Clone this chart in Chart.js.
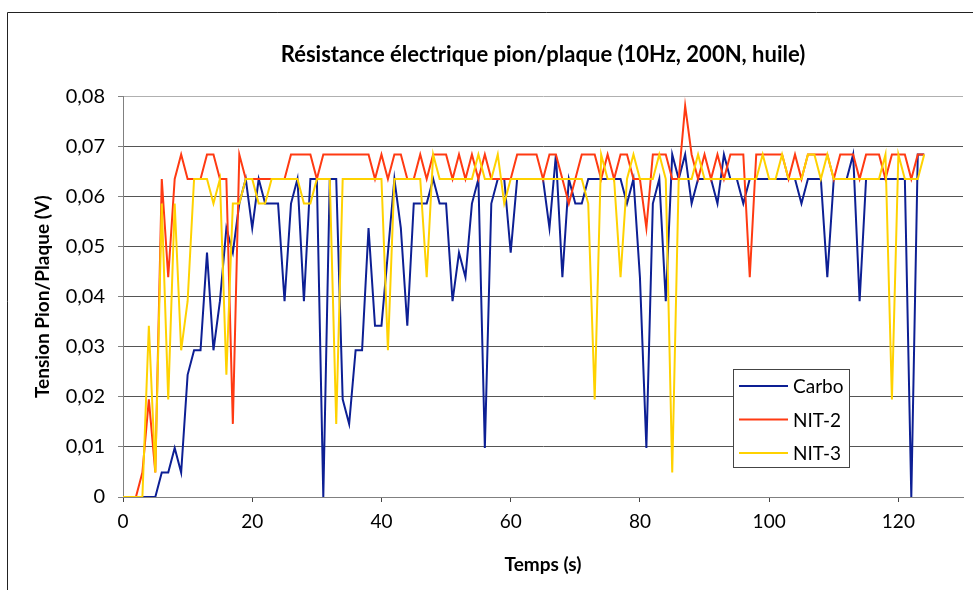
<!DOCTYPE html>
<html>
<head>
<meta charset="utf-8">
<script src="https://cdn.jsdelivr.net/npm/chart.js@4.4.0/dist/chart.umd.min.js"></script>
<style>
    html, body { margin: 0; padding: 0; background: #fff; overflow: hidden; }
    #wrap { width: 973px; height: 590px; overflow: hidden; position: relative; }
    #tensionChart { position: absolute; left: 0; top: 0; }
</style>
</head>
<body>
<div id="wrap"><canvas id="tensionChart" width="1086" height="590"></canvas></div>
<script>
// temps (s)
var temps = [
    0, 1, 2, 3, 4, 5, 6, 7, 8, 9,
    10, 11, 12, 13, 14, 15, 16, 17, 18, 19,
    20, 21, 22, 23, 24, 25, 26, 27, 28, 29,
    30, 31, 32, 33, 34, 35, 36, 37, 38, 39,
    40, 41, 42, 43, 44, 45, 46, 47, 48, 49,
    50, 51, 52, 53, 54, 55, 56, 57, 58, 59,
    60, 61, 62, 63, 64, 65, 66, 67, 68, 69,
    70, 71, 72, 73, 74, 75, 76, 77, 78, 79,
    80, 81, 82, 83, 84, 85, 86, 87, 88, 89,
    90, 91, 92, 93, 94, 95, 96, 97, 98, 99,
    100, 101, 102, 103, 104, 105, 106, 107, 108, 109,
    110, 111, 112, 113, 114, 115, 116, 117, 118, 119,
    120, 121, 122, 123, 124
];

// tension (V) - Carbo
var carbo = [
    0, 0, 0, 0, 0, 0, 0.0049, 0.0049, 0.0098, 0.0049,
    0.0244, 0.0293, 0.0293, 0.0488, 0.0293, 0.0391, 0.0537, 0.0488, 0.0586, 0.0635,
    0.0537, 0.0635, 0.0586, 0.0586, 0.0586, 0.0391, 0.0586, 0.0635, 0.0391, 0.0635,
    0.0635, 0, 0.0635, 0.0635, 0.0195, 0.0146, 0.0293, 0.0293, 0.0537, 0.0342,
    0.0342, 0.0488, 0.0635, 0.0537, 0.0342, 0.0586, 0.0586, 0.0586, 0.0635, 0.0586,
    0.0586, 0.0391, 0.0488, 0.0439, 0.0586, 0.0635, 0.0098, 0.0586, 0.0635, 0.0635,
    0.0488, 0.0635, 0.0635, 0.0635, 0.0635, 0.0635, 0.0537, 0.0684, 0.0439, 0.0635,
    0.0586, 0.0586, 0.0635, 0.0635, 0.0635, 0.0635, 0.0635, 0.0635, 0.0586, 0.0635,
    0.0439, 0.0098, 0.0586, 0.0635, 0.0391, 0.0684, 0.0635, 0.0684, 0.0586, 0.0635,
    0.0635, 0.0635, 0.0586, 0.0684, 0.0635, 0.0635, 0.0586, 0.0635, 0.0635, 0.0635,
    0.0635, 0.0635, 0.0635, 0.0635, 0.0635, 0.0586, 0.0635, 0.0635, 0.0635, 0.0439,
    0.0635, 0.0635, 0.0635, 0.0684, 0.0391, 0.0635, 0.0635, 0.0635, 0.0635, 0.0635,
    0.0635, 0.0635, 0, 0.0684, 0.0684
];

// tension (V) - NIT-2
var nit2 = [
    0, 0, 0, 0.0049, 0.0195, 0.0049, 0.0635, 0.0439, 0.0635, 0.0684,
    0.0635, 0.0635, 0.0635, 0.0684, 0.0684, 0.0635, 0.0635, 0.0146, 0.0684, 0.0635,
    0.0635, 0.0635, 0.0635, 0.0635, 0.0635, 0.0635, 0.0684, 0.0684, 0.0684, 0.0684,
    0.0635, 0.0684, 0.0684, 0.0684, 0.0684, 0.0684, 0.0684, 0.0684, 0.0684, 0.0635,
    0.0684, 0.0635, 0.0684, 0.0684, 0.0635, 0.0635, 0.0684, 0.0635, 0.0684, 0.0684,
    0.0684, 0.0635, 0.0684, 0.0635, 0.0684, 0.0635, 0.0684, 0.0635, 0.0635, 0.0635,
    0.0635, 0.0684, 0.0684, 0.0684, 0.0684, 0.0635, 0.0684, 0.0684, 0.0635, 0.0586,
    0.0635, 0.0684, 0.0684, 0.0684, 0.0635, 0.0684, 0.0635, 0.0684, 0.0684, 0.0635,
    0.0635, 0.0537, 0.0684, 0.0684, 0.0684, 0.0635, 0.0635, 0.0781, 0.0684, 0.0635,
    0.0684, 0.0635, 0.0684, 0.0635, 0.0684, 0.0684, 0.0684, 0.0439, 0.0684, 0.0684,
    0.0684, 0.0684, 0.0684, 0.0635, 0.0684, 0.0635, 0.0684, 0.0684, 0.0684, 0.0684,
    0.0635, 0.0684, 0.0684, 0.0684, 0.0635, 0.0684, 0.0684, 0.0684, 0.0635, 0.0684,
    0.0684, 0.0684, 0.0635, 0.0684, 0.0684
];

// tension (V) - NIT-3
var nit3 = [
    0, 0, 0, 0, 0.0342, 0.0049, 0.0586, 0.0195, 0.0586, 0.0293,
    0.0391, 0.0635, 0.0635, 0.0635, 0.0586, 0.0635, 0.0244, 0.0586, 0.0586, 0.0635,
    0.0635, 0.0586, 0.0586, 0.0635, 0.0635, 0.0635, 0.0635, 0.0635, 0.0586, 0.0586,
    0.0635, 0.0635, 0.0635, 0.0146, 0.0635, 0.0635, 0.0635, 0.0635, 0.0635, 0.0635,
    0.0635, 0.0293, 0.0635, 0.0635, 0.0635, 0.0635, 0.0635, 0.0439, 0.0684, 0.0635,
    0.0635, 0.0635, 0.0635, 0.0635, 0.0635, 0.0684, 0.0635, 0.0635, 0.0684, 0.0586,
    0.0635, 0.0635, 0.0635, 0.0635, 0.0635, 0.0635, 0.0635, 0.0635, 0.0635, 0.0635,
    0.0635, 0.0635, 0.0586, 0.0195, 0.0684, 0.0635, 0.0635, 0.0439, 0.0635, 0.0684,
    0.0635, 0.0635, 0.0635, 0.0684, 0.0635, 0.0049, 0.0635, 0.0635, 0.0635, 0.0684,
    0.0635, 0.0635, 0.0635, 0.0635, 0.0635, 0.0635, 0.0635, 0.0635, 0.0635, 0.0684,
    0.0635, 0.0635, 0.0684, 0.0635, 0.0635, 0.0635, 0.0684, 0.0684, 0.0635, 0.0684,
    0.0635, 0.0635, 0.0635, 0.0635, 0.0635, 0.0635, 0.0635, 0.0635, 0.0684, 0.0195,
    0.0684, 0.0635, 0.0635, 0.0635, 0.0684
];

// axes
var xTicks = [0, 20, 40, 60, 80, 100, 120];
var yTicks = [0, 0.01, 0.02, 0.03, 0.04, 0.05, 0.06, 0.07, 0.08];
var yTickLabels = ['0', '0,01', '0,02', '0,03', '0,04', '0,05', '0,06', '0,07', '0,08'];

var seriesNames = ['Carbo', 'NIT-2', 'NIT-3'];
var seriesColors = ['#0d1f94', '#ff3a12', '#ffd200'];

var fontFamily = 'Lato, "Open Sans", sans-serif';


//-------------
//- FRAME + LEGEND (Excel style, box inside plot) -
//-------------
var framePlugin = {
    id: 'frame',
    beforeDraw: function (chart) {
        var ctx = chart.ctx;
        ctx.save();
        ctx.fillStyle = '#fff';
        ctx.fillRect(0, 0, chart.width, chart.height);
        // only left and top edges fall inside the picture
        ctx.strokeStyle = '#222';
        ctx.lineWidth = 1;
        ctx.beginPath();
        ctx.moveTo(7.5, chart.height);
        ctx.lineTo(7.5, 12.5);
        ctx.lineTo(chart.width, 12.5);
        ctx.stroke();
        ctx.restore();
    }
};

var legendBoxPlugin = {
    id: 'legendBox',
    afterDraw: function (chart) {
        var ctx = chart.ctx;
        var x = 733, y = 369, w = 116, h = 98;
        ctx.save();
        ctx.fillStyle = '#fff';
        ctx.fillRect(x, y, w, h);
        ctx.strokeStyle = '#444';
        ctx.lineWidth = 1;
        ctx.strokeRect(x + 0.5, y + 0.5, w, h);
        ctx.font = '19px ' + fontFamily;
        ctx.textBaseline = 'middle';
        ctx.textAlign = 'left';
        chart.data.datasets.forEach(function (ds, i) {
            var ly = y + 17 + i * 33.5;
            ctx.strokeStyle = ds.borderColor;
            ctx.lineWidth = 2;
            ctx.beginPath();
            ctx.moveTo(x + 6, ly);
            ctx.lineTo(x + 55, ly);
            ctx.stroke();
            ctx.fillStyle = '#000';
            ctx.fillText(ds.label, x + 60, ly + 1);
        });
        ctx.restore();
    }
};


//-------------
//- LINE CHART -
//-------------
var lineChartData = {
    labels: temps,
    datasets: [
        {
            label: seriesNames[0],
            data: carbo,
            borderColor: seriesColors[0],
            order: 3
        },
        {
            label: seriesNames[1],
            data: nit2,
            borderColor: seriesColors[1],
            order: 2
        },
        {
            label: seriesNames[2],
            data: nit3,
            borderColor: seriesColors[2],
            order: 1
        }
    ]
}

var lineChartOptions = {
    responsive: false,
    animation: false,
    layout: { padding: { left: 0, right: 123, top: 0, bottom: 0 } },
    elements: {
        line: { borderWidth: 2, tension: 0, fill: false },
        point: { radius: 0, hoverRadius: 0 }
    },
    plugins: {
        legend: { display: false },
        tooltip: { enabled: false },
        title: {
            display: true,
            fullSize: false, // centre over the plot area
            text: 'Résistance électrique pion/plaque (10Hz, 200N, huile)',
            color: '#000',
            font: { family: fontFamily, size: 22, weight: 'bold' },
            padding: { top: 42, bottom: 28 }
        }
    },
    scales: {
        x: {
            type: 'linear',
            min: 0,
            max: 130,
            afterFit: function (scale) { scale.height = 93; },
            afterBuildTicks: function (scale) {
                scale.ticks = xTicks.map(function (v) { return { value: v }; });
            },
            grid: { drawOnChartArea: false, drawTicks: true, tickLength: 5, tickColor: '#444' },
            border: { color: '#808080', width: 1 },
            ticks: {
                color: '#000',
                padding: 8,
                maxRotation: 0,
                font: { family: fontFamily, size: 19 }
            },
            title: {
                display: true,
                text: 'Temps (s)',
                color: '#000',
                font: { family: fontFamily, size: 19, weight: 'bold' },
                padding: { top: 0, bottom: 14 }
            }
        },
        y: {
            min: 0,
            max: 0.08,
            afterFit: function (scale) { scale.width = 123; },
            afterBuildTicks: function (scale) {
                scale.ticks = yTicks.map(function (v) { return { value: v }; });
            },
            grid: {
                // top line is lighter in the original
                color: function (c) { return c.index === yTicks.length - 1 ? '#b0b0b0' : '#555'; },
                lineWidth: 1,
                tickLength: 5,
                tickColor: '#808080'
            },
            border: { color: '#808080', width: 1 },
            ticks: {
                color: '#000',
                padding: 13,
                font: { family: fontFamily, size: 20 },
                callback: function (value, index) { return yTickLabels[index]; }
            },
            title: {
                display: true,
                text: 'Tension Pion/Plaque (V)',
                color: '#000',
                font: { family: fontFamily, size: 19, weight: 'bold' },
                padding: { top: 31, bottom: 0 }
            }
        }
    }
}

var lineChartCanvas = document.getElementById('tensionChart').getContext('2d')
new Chart(lineChartCanvas, {
    type: 'line',
    data: lineChartData,
    options: lineChartOptions,
    plugins: [framePlugin, legendBoxPlugin]
})
</script>
</body>
</html>
